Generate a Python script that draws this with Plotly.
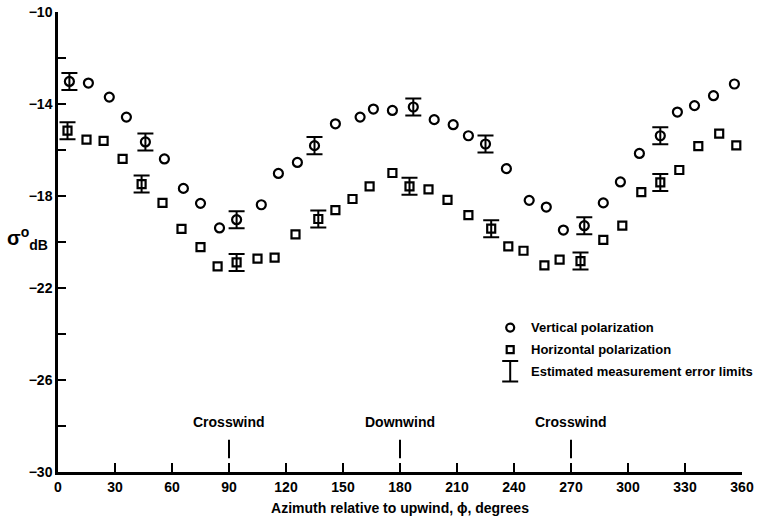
import plotly.graph_objects as go

# ---- data ----
vert_az = [6, 16, 27, 36, 46, 56, 66, 75, 85, 94, 107, 116, 126, 135, 146, 159, 166, 176,
           187, 198, 208, 216, 225, 236, 248, 257, 266, 277, 287, 296, 306, 317, 326, 335, 345, 356]
vert_db = [-13.02, -13.09, -13.70, -14.57, -15.65, -16.39, -17.67, -18.32, -19.39, -19.03,
           -18.38, -17.02, -16.54, -15.81, -14.86, -14.57, -14.22, -14.28, -14.13, -14.68,
           -14.90, -15.38, -15.74, -16.81, -18.19, -18.48, -19.48, -19.29, -18.30, -17.39,
           -16.15, -15.38, -14.35, -14.07, -13.64, -13.13]
horiz_az = [5, 15, 24, 34, 44, 55, 65, 75, 84, 94, 105, 114, 125, 137, 146, 155, 164, 176,
            185, 195, 205, 216, 228, 237, 245, 256, 264, 275, 287, 297, 307, 317, 327, 337, 348, 357]
horiz_db = [-15.16, -15.55, -15.60, -16.39, -17.48, -18.30, -19.43, -20.22, -21.06, -20.89,
            -20.72, -20.68, -19.67, -19.00, -18.61, -18.13, -17.58, -17.00, -17.58, -17.71,
            -18.17, -18.83, -19.42, -20.19, -20.38, -21.02, -20.77, -20.83, -19.91, -19.29,
            -17.83, -17.41, -16.87, -15.83, -15.29, -15.80]
err_idx = [0, 4, 9, 13, 18, 22, 27, 31]
err_half = 0.37

x_ticks = [0, 30, 60, 90, 120, 150, 180, 210, 240, 270, 300, 330, 360]
y_ticks = [-30, -26, -22, -18, -14, -10]

wind_az = [90, 180, 270]
wind_lbl = ["Crosswind", "Downwind", "Crosswind"]

legend_lbl = ["Vertical polarization", "Horizontal polarization", "Estimated measurement error limits"]

FONT = "Liberation Sans, Arial, sans-serif"
BLK = "black"
FS = 14

fig = go.Figure()

# error bars (through the markers)
for xs, ys in ((vert_az, vert_db), (horiz_az, horiz_db)):
    fig.add_trace(go.Scatter(
        x=[xs[i] for i in err_idx], y=[ys[i] for i in err_idx], mode="markers",
        marker=dict(size=1, color="rgba(0,0,0,0)"),
        error_y=dict(type="constant", value=err_half, color=BLK, thickness=2, width=8),
        showlegend=False, hoverinfo="skip"))

fig.add_trace(go.Scatter(x=vert_az, y=vert_db, mode="markers",
                         marker=dict(symbol="circle-open", size=9, color=BLK, line=dict(width=2.2)),
                         showlegend=False))
fig.add_trace(go.Scatter(x=horiz_az, y=horiz_db, mode="markers",
                         marker=dict(symbol="square-open", size=8, color=BLK, line=dict(width=2.2)),
                         showlegend=False))

# wind direction markers
for az, lbl in zip(wind_az, wind_lbl):
    fig.add_trace(go.Scatter(x=[az, az], y=[-28.6, -29.4], mode="lines",
                             line=dict(color=BLK, width=2), showlegend=False, hoverinfo="skip"))
    fig.add_annotation(x=az, y=-28.25, text=lbl, showarrow=False, xanchor="center", yanchor="bottom",
                       font=dict(family=FONT, size=FS, color=BLK, weight="bold"))

# legend drawn as key
lx, ltx = 238, 248
ly = [-23.72, -24.68, -25.62]
fig.add_trace(go.Scatter(x=[lx], y=[ly[0]], mode="markers",
                         marker=dict(symbol="circle-open", size=8, color=BLK, line=dict(width=2.2)),
                         showlegend=False, hoverinfo="skip"))
fig.add_trace(go.Scatter(x=[lx], y=[ly[1]], mode="markers",
                         marker=dict(symbol="square-open", size=7, color=BLK, line=dict(width=2.2)),
                         showlegend=False, hoverinfo="skip"))
fig.add_trace(go.Scatter(x=[lx], y=[ly[2]], mode="markers",
                         marker=dict(size=1, color="rgba(0,0,0,0)"),
                         error_y=dict(type="constant", value=0.45, color=BLK, thickness=2, width=8),
                         showlegend=False, hoverinfo="skip"))
for yy, t in zip(ly, legend_lbl):
    fig.add_annotation(x=ltx, y=yy, text=t, showarrow=False, xanchor="left", yanchor="middle",
                       font=dict(family=FONT, size=13, color=BLK, weight="bold"))

# y axis label
fig.add_annotation(xref="paper", yref="y", x=-0.012, y=-19.85, showarrow=False,
                   xanchor="right", yanchor="middle",
                   text="<b>σ</b><sup>o</sup><sub>dB</sub>",
                   font=dict(family=FONT, size=20, color=BLK, weight="bold"))

fig.update_xaxes(range=[0, 360], tickvals=x_ticks, ticks="inside", ticklen=9, tickwidth=2,
                 tickcolor=BLK, showline=True, linecolor=BLK, linewidth=2.5, showgrid=False,
                 zeroline=False, automargin=False,
                 tickfont=dict(family=FONT, size=FS, color=BLK, weight="bold"),
                 title=dict(text="Azimuth relative to upwind, ϕ, degrees", standoff=10,
                            font=dict(family=FONT, size=FS, color=BLK, weight="bold")))
fig.update_yaxes(range=[-30, -10], tickvals=y_ticks, ticks="inside",
                 ticklen=8, tickwidth=2, tickcolor=BLK, showline=True, linecolor=BLK,
                 linewidth=2.5, showgrid=False, zeroline=False, automargin=False,
                 minor=dict(dtick=2, tick0=-30, ticks="inside", ticklen=8, tickwidth=2, tickcolor=BLK),
                 tickfont=dict(family=FONT, size=FS, color=BLK, weight="bold"))

fig.update_layout(width=767, height=523, margin=dict(l=58, r=25, t=12, b=51),
                  plot_bgcolor="white", paper_bgcolor="white", showlegend=False)

fig.write_html("out.html")
